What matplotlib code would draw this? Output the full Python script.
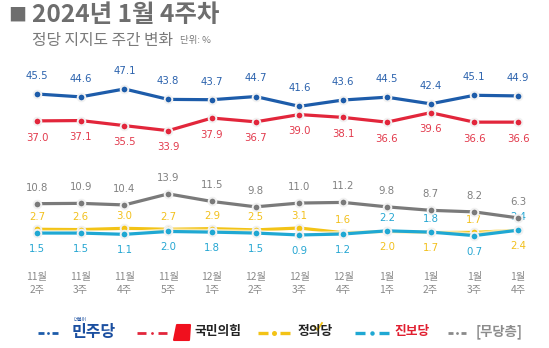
import matplotlib
matplotlib.use("Agg")
import matplotlib.pyplot as plt
from matplotlib.patches import Polygon
import matplotlib.patheffects as pe

plt.rcParams['font.family'] = ['Noto Sans CJK KR', 'DejaVu Sans']

weeks = ["11월\n2주", "11월\n3주", "11월\n4주", "11월\n5주", "12월\n1주", "12월\n2주",
         "12월\n3주", "12월\n4주", "1월\n1주", "1월\n2주", "1월\n3주", "1월\n4주"]
minju = [45.5, 44.6, 47.1, 43.8, 43.7, 44.7, 41.6, 43.6, 44.5, 42.4, 45.1, 44.9]
ppp = [37.0, 37.1, 35.5, 33.9, 37.9, 36.7, 39.0, 38.1, 36.6, 39.6, 36.6, 36.6]
none_party = [10.8, 10.9, 10.4, 13.9, 11.5, 9.8, 11.0, 11.2, 9.8, 8.7, 8.2, 6.3]
justice = [2.7, 2.6, 3.0, 2.7, 2.9, 2.5, 3.1, 1.6, 2.0, 1.7, 1.7, 2.4]
progressive = [1.5, 1.5, 1.1, 2.0, 1.8, 1.5, 0.9, 1.2, 2.2, 1.8, 0.7, 2.4]

C_BLUE = "#1d5caa"
C_RED = "#e2263b"
C_GRAY = "#7a7a7a"
C_YEL = "#f3c316"
C_CYAN = "#1fa8d3"

W, H = 549, 348
fig = plt.figure(figsize=(W / 100, H / 100), dpi=100)
ax = fig.add_axes([0, 0, 1, 1])
ax.set_axis_off()
# horizontal: index -> pixel 37 + 43.73*i ; vertical: value -> pixel 237.8 - 3.16*v
sx, x0 = 43.73, 37.0
sy, y0 = 3.16, 237.8
ax.set_xlim(-x0 / sx, (W - x0) / sx)
ax.set_ylim((y0 - H) / sy, y0 / sy)

xs = list(range(len(weeks)))
halo = [pe.Stroke(linewidth=4.6, foreground="white", alpha=0.6), pe.Normal()]


def draw(vals, color, z):
    ax.plot(xs, vals, color=color, lw=2.3, solid_capstyle="round", zorder=z,
            path_effects=halo)
    ax.plot(xs, vals, "o", ms=5.5, color=color, mec="#f1f1f1", mew=1.4, zorder=z + 0.5)


draw(minju, C_BLUE, 5)
draw(ppp, C_RED, 5)
draw(none_party, C_GRAY, 4)
draw(justice, C_YEL, 3)
draw(progressive, C_CYAN, 4)

NUM_FONT = ['DejaVu Sans']
lab_kw = dict(textcoords="offset points", ha="center", va="center", fontsize=7.3,
              family=NUM_FONT)


def label(vals, color, dy_pt):
    for i, v in enumerate(vals):
        ax.annotate(f"{v:.1f}", (i, v), xytext=(0, dy_pt), color=color, **lab_kw)


label(minju, "#2b62ad", 13)
label(ppp, "#e23a4c", -12)
label(none_party, "#808080", 11.5)

for i, (jv, pv) in enumerate(zip(justice, progressive)):
    if jv > pv:
        ax.annotate(f"{jv:.1f}", (i, jv), xytext=(0, 9), color="#f2c01c", **lab_kw)
        ax.annotate(f"{pv:.1f}", (i, pv), xytext=(0, -11.5), color="#25a6d2", **lab_kw)
    else:
        ax.annotate(f"{pv:.1f}", (i, pv), xytext=(0, 9.5), color="#25a6d2", **lab_kw)
        ax.annotate(f"{jv:.1f}", (i, jv), xytext=(0, -11.5), color="#f2c01c", **lab_kw)

for i in xs:
    ax.text(i, (y0 - 283.5) / sy, weeks[i], ha="center", va="center", fontsize=7.4,
            color="#8a8a8a", linespacing=1.45, multialignment="center")

# title block
fig.text(8 / W, 1 - 16 / H, "■", fontsize=13, color="#6e6e6e", va="center", ha="left")
fig.text(32 / W, 1 - 15 / H, "2024년 1월 4주차", fontsize=17.6, fontweight="bold",
         color="#6e6e6e", va="center", ha="left")
fig.text(32 / W, 1 - 40 / H, "정당 지지도 주간 변화", fontsize=11.4, color="#7a7a7a",
         va="center", ha="left")
fig.text(180 / W, 1 - 41 / H, "단위: %", fontsize=6.8, color="#7a7a7a",
         va="center", ha="left")

# legend row
ly = 1 - 333 / H
ty = 1 - 332 / H


def legend_mark(xa, xb, color, lw=2.0, ms=2.0):
    xm = (xa + xb) / 2
    gap = (xb - xa) * 0.2
    for a, b in ((xa, xm - gap), (xm + gap, xb)):
        fig.add_artist(plt.Line2D([a / W, b / W], [ly, ly], color=color, lw=lw,
                                  solid_capstyle="butt", transform=fig.transFigure))
    fig.add_artist(plt.Line2D([xm / W], [ly], marker="o", ms=ms, color=color, lw=0,
                              mew=0, transform=fig.transFigure))


legend_mark(38, 58, C_BLUE)
fig.text(72 / W, ty, "민주당", fontsize=11.5, fontweight="bold", color="#1b4fa0",
         va="center", ha="left")
fig.text(74 / W, 1 - 319.5 / H, "더불어", fontsize=3.4, color="#1b4fa0",
         va="center", ha="left")

legend_mark(137, 167, C_RED)
fig.add_artist(Polygon([[177 / W, 1 - 325 / H], [190 / W, 1 - 325 / H],
                        [189 / W, 1 - 340 / H], [174 / W, 1 - 340 / H]],
                       closed=True, color="#f0101e", transform=fig.transFigure,
                       joinstyle="round", lw=1.5))
fig.text(194 / W, ty, "국민의힘", fontsize=9.2, fontweight="bold", color="#222222",
         va="center", ha="left")

legend_mark(258, 290, C_YEL, lw=2.4, ms=3.6)
fig.text(298 / W, ty, "정의당", fontsize=9.2, fontweight="bold", color="#222222",
         va="center", ha="left")
fig.add_artist(plt.Line2D([314 / W, 317.5 / W, 322 / W],
                          [1 - 326 / H, 1 - 330 / H, 1 - 323 / H],
                          color=C_YEL, lw=1.3, transform=fig.transFigure))

legend_mark(355, 389, C_CYAN, lw=2.4, ms=3.2)
fig.text(394 / W, ty, "진보당", fontsize=9.2, fontweight="bold", color="#e11f30",
         va="center", ha="left")

legend_mark(448, 466, "#8a8a8a")
fig.text(476 / W, ty, "[무당층]", fontsize=9.6, fontweight="bold", color="#8c8c8c",
         va="center", ha="left")

fig.savefig("out.png", dpi=100, facecolor="white")
